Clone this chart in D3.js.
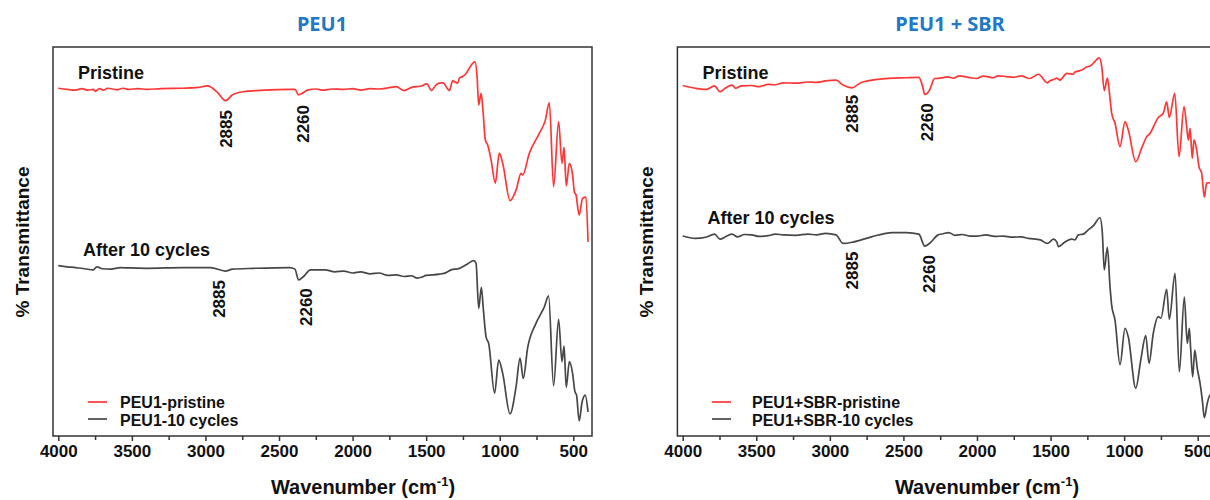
<!DOCTYPE html>
<html>
<head>
<meta charset="utf-8">
<script src="https://cdn.jsdelivr.net/npm/d3@7"></script>
<style>
  body { margin: 0; background: #fff; }
  svg { display: block; }
</style>
</head>
<body>
<div id="chart"></div>
<script>
// FTIR spectra, PEU1 and PEU1 + SBR, pristine vs after 10 cycles
// values: [wavenumber (cm-1), transmittance (a.u., offset)]

const peu1Pristine = [
  [4000,89.4],[3940,89.1],[3883,88.9],[3840,89.3],[3800,88.9],[3762,89.1],[3749,88.6],[3720,89.3],
  [3690,88.9],[3665,89.4],[3600,89.0],[3560,89.4],[3520,89.1],[3460,89.3],
  [3399,89.1],[3300,89.3],[3155,89.4],[3050,89.6],[2986,90.0],[2913,88.1],[2865,86.2],[2816,87.7],
  [2743,88.5],[2600,88.9],[2428,89.1],[2392,89.1],[2367,87.7],[2343,88.1],[2307,88.9],[2250,89.2],
  [2200,88.9],[2140,89.2],[2064,89.1],[2000,89.3],[1944,88.9],[1880,89.3],[1820,89.2],[1760,89.5],
  [1702,89.8],[1652,88.8],[1593,89.7],[1540,89.9],[1495,90.5],[1464,88.8],
  [1434,90.2],[1410,90.7],[1386,90.8],[1342,88.8],[1320,91.3],[1286,90.7],[1274,92.0],[1252,92.4],
  [1229,93.2],[1184,95.8],[1168,96.2],[1154,92.4],[1143,85.1],[1127,88.1],[1116,84.7],[1098,76.1],
  [1082,74.8],[1059,71.0],[1030,65.0],[1003,72.7],[980,70.1],[930,60.5],[889,63.2],[855,67.5],
  [844,67.1],[799,72.7],[731,77.8],[690,81.2],[663,85.7],[634,64.1],[600,80.8],[577,70.1],
  [563,74.2],[548,64.3],[527,70.1],[505,67.1],[493,62.8],[482,62.0],[460,56.8],[437,61.1],
  [414,61.4],[400,49.9]
];

const peu1Cycles = [
  [4000,43.8],[3940,43.5],[3883,43.3],[3820,43.0],[3762,42.7],[3738,43.5],[3700,43.0],[3641,42.9],
  [3580,43.3],[3520,43.2],[3399,43.1],[3155,43.3],
  [2965,43.3],[2865,42.4],[2816,42.9],[2673,43.1],[2428,43.3],[2392,42.9],[2367,40.1],[2333,41.0],
  [2286,42.7],[2186,42.7],[2120,42.2],[2060,42.4],[2000,41.9],[1946,42.2],[1880,41.7],[1820,41.9],
  [1760,41.3],[1702,41.4],[1650,41.0],[1600,41.2],[1560,40.6],[1532,40.8],[1500,41.3],
  [1457,41.4],[1410,41.6],[1364,42.0],[1331,42.7],[1274,43.1],[1229,44.0],[1177,45.1],[1161,44.4],
  [1143,32.8],[1125,38.2],[1111,32.4],[1093,25.5],[1075,23.8],[1035,11.0],[1007,19.5],[980,16.1],
  [930,5.7],[889,12.7],[862,20.0],[840,14.8],[811,22.5],[753,29.0],[697,33.2],[668,36.0],
  [634,12.9],[600,30.0],[577,19.1],[563,23.1],[548,12.5],[527,19.1],[505,16.1],[489,11.4],
  [478,10.5],[460,3.9],[441,8.6],[419,10.5],[400,6.2]
];

const sbrPristine = [
  [4000,90.1],[3915,89.4],[3843,89.1],[3783,90.0],[3747,88.5],[3712,89.4],[3664,90.2],[3640,89.4],
  [3600,90.0],[3532,90.1],[3480,89.8],[3420,90.4],[3370,90.3],[3317,90.8],[3230,90.7],[3150,91.0],
  [3090,90.9],[3030,91.3],[2958,91.5],[2910,90.2],[2850,89.5],
  [2790,90.8],[2671,91.7],[2479,92.1],[2395,92.2],[2372,90.2],[2355,87.8],[2323,88.9],[2288,91.9],
  [2250,92.0],[2200,92.3],[2160,92.0],[2120,92.6],[2060,92.2],[2001,91.9],[1960,92.5],[1930,92.4],
  [1890,92.1],[1857,92.6],[1800,92.4],[1750,92.2],[1700,92.6],[1642,91.9],[1582,93.0],
  [1522,90.8],[1504,91.3],[1474,91.7],[1458,92.0],[1436,91.5],[1390,93.2],[1346,93.0],[1334,93.6],
  [1312,93.8],[1278,94.3],[1254,94.9],[1232,95.1],[1210,95.8],[1169,97.2],[1152,94.9],[1135,88.8],
  [1114,92.0],[1096,86.8],[1085,83.0],[1062,80.4],[1028,74.4],[994,80.8],[972,78.7],[921,70.5],
  [881,74.0],[847,76.9],[824,77.8],[768,81.9],[734,83.0],[711,85.9],[693,81.9],[656,88.1],
  [627,71.8],[593,84.7],[575,79.5],[564,76.1],[552,79.1],[537,71.4],[525,76.1],[507,73.5],
  [491,69.2],[473,67.5],[455,61.4],[439,65.0],[416,65.1],[400,64.8]
];

const sbrCycles = [
  [4000,51.4],[3915,50.8],[3843,51.1],[3783,51.9],[3747,50.6],[3700,51.4],[3664,51.9],[3628,51.2],
  [3580,51.8],[3532,51.7],[3480,51.3],[3420,51.5],[3370,51.9],[3317,51.7],[3230,51.6],[3150,51.9],
  [3090,51.7],[3030,52.1],[2958,51.7],[2910,49.5],[2838,49.9],[2718,51.2],
  [2575,52.3],[2479,52.3],[2395,51.9],[2355,48.8],[2323,49.5],[2264,51.7],[2230,52.0],[2192,52.3],
  [2150,51.6],[2100,51.8],[2050,51.4],[2001,51.4],[1940,51.7],[1880,51.3],[1820,51.4],[1761,51.1],
  [1700,51.2],[1650,50.8],[1570,50.4],[1522,49.5],[1504,49.9],[1481,50.6],
  [1458,49.9],[1447,48.7],[1402,49.9],[1356,50.6],[1334,50.4],[1312,51.7],[1278,51.9],[1244,53.0],
  [1210,54.0],[1164,56.1],[1148,52.1],[1135,42.7],[1114,48.5],[1096,38.4],[1085,33.7],[1062,29.8],
  [1028,18.3],[994,27.7],[972,25.5],[921,12.3],[887,19.5],[853,25.8],[831,18.7],[802,26.4],
  [768,30.7],[750,30.3],[711,37.7],[693,30.0],[654,41.8],[625,16.5],[591,35.7],[571,23.8],
  [557,27.7],[548,22.5],[534,15.2],[520,22.1],[503,17.4],[484,13.5],[469,9.3],[455,4.7],
  [435,8.4],[416,10.5],[400,10.0]
];

// peak annotations: [text, wavenumber, transmittance at top of label]
const peu1Peaks = [['2885',2862,83.8],['2260',2340,85.1],['2885',2911,40.1],['2260',2317,38.0]];
const sbrPeaks  = [['2885',2850,87.7],['2260',2343,85.5],['2885',2850,47.4],['2260',2323,46.5]];

const majorTicks = [4000,3500,3000,2500,2000,1500,1000,500];
const minorTicks = [3750,3250,2750,2250,1750,1250,750];

const panelTitles = ['PEU1', 'PEU1 + SBR'];
const legendNames = [['PEU1-pristine','PEU1-10 cycles'], ['PEU1+SBR-pristine','PEU1+SBR-10 cycles']];

const RED = '#ff3636', GREY = '#474747';
const FONT = '"Liberation Sans", Arial, sans-serif';

const width = 1210, height = 500;
const plotTop = 47, plotBottom = 436;

const svg = d3.select('#chart').append('svg')
  .attr('width', width)
  .attr('height', height)
  .style('font-family', FONT);

const y = d3.scaleLinear().domain([0, 100]).range([plotBottom, plotTop]);

function drawPanel(p) {
  const x = d3.scaleLinear().domain([4036, 373]).range([p.left, p.right]);
  const g = svg.append('g');

  // title
  g.append('text')
    .attr('x', p.titleX).attr('y', 31)
    .attr('text-anchor', 'middle')
    .style('font-family', '"Noto Sans", "Open Sans", sans-serif')
    .style('font-weight', 700).style('font-size', '20px')
    .attr('fill', '#1f78c8')
    .text(p.title);

  // axis
  const axis = g.append('g').attr('transform', `translate(0,${plotBottom})`)
    .call(d3.axisBottom(x).tickValues(majorTicks).tickFormat(d3.format('d')).tickSize(5).tickPadding(4));
  axis.select('.domain').remove();
  axis.selectAll('line').attr('stroke', '#333').attr('stroke-width', 1.5);
  axis.selectAll('text')
    .style('font-family', FONT).style('font-weight', 700).style('font-size', '17px')
    .attr('fill', '#111');

  const minor = g.append('g').attr('transform', `translate(0,${plotBottom})`)
    .call(d3.axisBottom(x).tickValues(minorTicks).tickSize(4).tickFormat(''));
  minor.select('.domain').remove();
  minor.selectAll('line').attr('stroke', '#333').attr('stroke-width', 1.5);

  // spectra
  const line = d3.line()
    .x(d => x(d[0]))
    .y(d => y(d[1]))
    .curve(d3.curveMonotoneX);

  g.append('path').datum(p.pristine)
    .attr('d', line).attr('fill', 'none')
    .attr('stroke', RED).attr('stroke-width', 1.7).attr('stroke-linejoin', 'round');
  g.append('path').datum(p.cycles)
    .attr('d', line).attr('fill', 'none')
    .attr('stroke', GREY).attr('stroke-width', 1.7).attr('stroke-linejoin', 'round');

  // frame
  g.append('rect')
    .attr('x', p.left).attr('y', plotTop)
    .attr('width', p.right - p.left).attr('height', plotBottom - plotTop)
    .attr('fill', 'none').attr('stroke', '#333').attr('stroke-width', 1.5);

  // peak labels
  g.selectAll('text.peak')
    .data(p.peaks)
    .enter()
    .append('text')
    .attr('class', 'peak')
    .attr('transform', d => `translate(${x(d[1]) + 6},${y(d[2])}) rotate(-90)`)
    .attr('text-anchor', 'end')
    .style('font-weight', 700).style('font-size', '17px')
    .attr('fill', '#111')
    .text(d => d[0]);

  // curve labels
  g.append('text').attr('x', p.left + 25).attr('y', 79)
    .style('font-weight', 700).style('font-size', '18px').attr('fill', '#111')
    .text('Pristine');
  g.append('text').attr('x', p.left + 30).attr('y', p.afterY)
    .style('font-weight', 700).style('font-size', '18px').attr('fill', '#111')
    .text('After 10 cycles');

  // legend
  const lg = g.append('g');
  [[RED, 402, 408], [GREY, 419, 426]].forEach((s, i) => {
    lg.append('line')
      .attr('x1', p.legLine[0]).attr('x2', p.legLine[1])
      .attr('y1', s[1]).attr('y2', s[1])
      .attr('stroke', s[0]).attr('stroke-width', 1.7);
    lg.append('text')
      .attr('x', p.legText).attr('y', s[2])
      .style('font-weight', 700).style('font-size', '16px').attr('fill', '#111')
      .text(p.legend[i]);
  });

  // y label
  g.append('text')
    .attr('transform', `translate(${p.left - 24},242) rotate(-90)`)
    .attr('text-anchor', 'middle')
    .style('font-weight', 700).style('font-size', '19px').attr('fill', '#111')
    .text('% Transmittance');

  // x label
  const xl = g.append('text')
    .attr('x', p.xLabelX).attr('y', 494)
    .attr('text-anchor', 'middle')
    .style('font-weight', 700).style('font-size', '20px').attr('fill', '#111');
  xl.append('tspan').text('Wavenumber (cm');
  xl.append('tspan').attr('dy', -8).style('font-size', '13px').text('-1');
  xl.append('tspan').attr('dy', 8).text(')');
}

drawPanel({
  left: 53, right: 592, title: panelTitles[0], titleX: 322,
  pristine: peu1Pristine, cycles: peu1Cycles, peaks: peu1Peaks,
  afterY: 256, legend: legendNames[0], legLine: [88, 107], legText: 120, xLabelX: 363
});

drawPanel({
  left: 677.4, right: 1216.4, title: panelTitles[1], titleX: 950,
  pristine: sbrPristine, cycles: sbrCycles, peaks: sbrPeaks,
  afterY: 224, legend: legendNames[1], legLine: [712, 731], legText: 752, xLabelX: 987
});
</script>
</body>
</html>
